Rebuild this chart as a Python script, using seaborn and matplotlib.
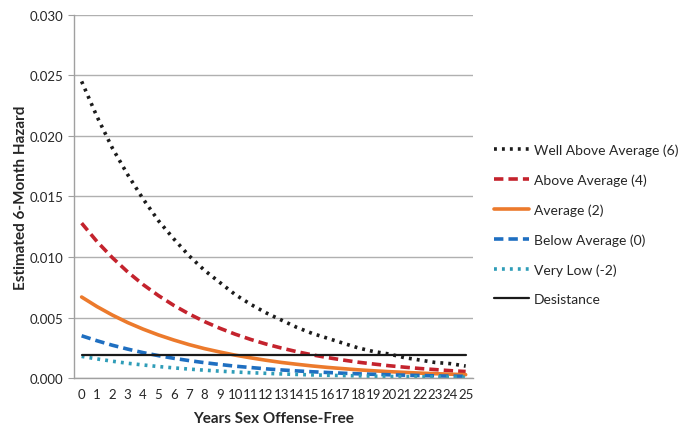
import pandas as pd
import numpy as np
import matplotlib
matplotlib.use("Agg")
import matplotlib.pyplot as plt
import seaborn as sns

# values, one per year offense-free
years = list(range(26))
well_above = [.0245, .0216, .0190, .0168, .0148, .0130, .0115, .0101, .0089, .0079,
              .0069, .0061, .0054, .0048, .0042, .0037, .0033, .0029, .0025, .0022,
              .0020, .0017, .0015, .0013, .0012, .0010]
above = [.0128, .01128, .00995, .00877, .00773, .00682, .00601, .00530, .00467, .00412,
         .00363, .00320, .00282, .00249, .00219, .00193, .00170, .00150, .00132, .00117,
         .00103, .00091, .00080, .00071, .00062, .00055]
average = [.0067, .00591, .00521, .00459, .00405, .00357, .00315, .00277, .00244, .00216,
           .00190, .00168, .00148, .00130, .00115, .00101, .00089, .00079, .00069, .00061,
           .00054, .00048, .00042, .00037, .00033, .00029]
below = [.0035, .00309, .00272, .00240, .00211, .00186, .00164, .00145, .00128, .00113,
         .00099, .00088, .00077, .00068, .00060, .00053, .00047, .00041, .00036, .00032,
         .00028, .00025, .00022, .00019, .00017, .00015]
very_low = [.0018, .00159, .00140, .00123, .00109, .00096, .00085, .00075, .00066, .00058,
            .00051, .00045, .00040, .00035, .00031, .00027, .00024, .00021, .00019, .00016,
            .00014, .00013, .00011, .00010, .00009, .00008]
desistance = [.0019] * 26

series_names = ["Well Above Average (6)", "Above Average (4)", "Average (2)",
                "Below Average (0)", "Very Low (-2)", "Desistance"]
series_vals = [well_above, above, average, below, very_low, desistance]

# line styles per series
styles = {
    "Well Above Average (6)": dict(color="#1c1c1c", ls=(0, (0.8, 1.4)), lw=2.6),
    "Above Average (4)": dict(color="#c4232d", ls=(0, (2.6, 1.4)), lw=2.6),
    "Average (2)": dict(color="#ec7a2c", ls="-", lw=2.6),
    "Below Average (0)": dict(color="#1f6fc1", ls=(0, (2.6, 1.4)), lw=2.6),
    "Very Low (-2)": dict(color="#2f9db8", ls=(0, (0.8, 1.4)), lw=2.6),
    "Desistance": dict(color="#1a1a1a", ls="-", lw=1.6),
}

df = pd.DataFrame({
    "Year": years * len(series_names),
    "Hazard": sum(series_vals, []),
    "Group": np.repeat(series_names, len(years)),
})

sns.set_style("white")
plt.rcParams["font.family"] = ["Lato", "DejaVu Sans"]

fig = plt.figure(figsize=(6.91, 4.27), dpi=100)
ax = fig.add_axes([0.107, 0.112, 0.578, 0.851])

for name in series_names:
    st = styles[name]
    sub = df[df["Group"] == name]
    sns.lineplot(data=sub, x="Year", y="Hazard", ax=ax, color=st["color"],
                 linestyle=st["ls"], linewidth=st["lw"], label=name)

ax.set_xlim(-0.5, 25.5)
ax.set_ylim(0, 0.030)
ax.set_yticks(np.arange(0, 0.0301, 0.005))
ax.set_yticklabels([f"{v:.3f}" for v in np.arange(0, 0.0301, 0.005)], fontsize=9.5)
ax.set_xticks(years)
ax.set_xticklabels([str(y) for y in years], fontsize=9.5)
ax.set_xticks(np.arange(-0.5, 26, 1), minor=True)
ax.tick_params(axis="x", which="major", length=0, pad=7)
ax.tick_params(axis="x", which="minor", length=4, color="#a0a0a0", direction="out")
ax.tick_params(axis="y", length=4, color="#a0a0a0", direction="out", left=True)
ax.grid(axis="y", color="#b0b0b0", lw=1)
ax.set_axisbelow(True)
for s in ["top", "right"]:
    ax.spines[s].set_visible(False)
for s in ["left", "bottom"]:
    ax.spines[s].set_color("#a0a0a0")
    ax.spines[s].set_linewidth(1)

ax.set_xlabel("Years Sex Offense-Free", fontsize=11, fontweight="bold", labelpad=8)
ax.set_ylabel("Estimated 6-Month Hazard", fontsize=11, fontweight="bold", labelpad=1)

ax.legend(loc="upper left", bbox_to_anchor=(1.02, 0.68), frameon=False,
          fontsize=10, handlelength=2.5, handletextpad=0.4, labelspacing=1.25)

plt.savefig("out.png", dpi=100)
